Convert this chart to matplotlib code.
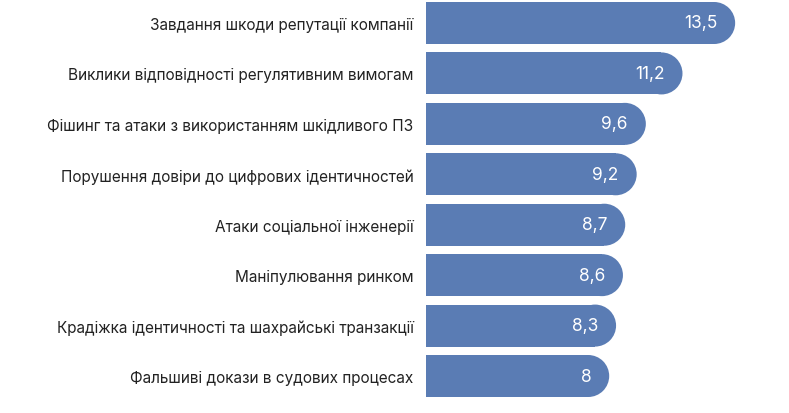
import matplotlib
matplotlib.use("Agg")
import matplotlib.pyplot as plt
from matplotlib.patches import Ellipse

categories = [
    "Завдання шкоди репутації компанії",
    "Виклики відповідності регулятивним вимогам",
    "Фішинг та атаки з використанням шкідливого ПЗ",
    "Порушення довіри до цифрових ідентичностей",
    "Атаки соціальної інженерії",
    "Маніпулювання ринком",
    "Крадіжка ідентичності та шахрайські транзакції",
    "Фальшиві докази в судових процесах",
]
values = [13.5, 11.2, 9.6, 9.2, 8.7, 8.6, 8.3, 8.0]
value_labels = ["13,5", "11,2", "9,6", "9,2", "8,7", "8,6", "8,3", "8"]

W, H, DPI = 789, 414, 100
plt.rcParams['font.family'] = ['Inter', 'DejaVu Sans']
fig = plt.figure(figsize=(W / DPI, H / DPI), dpi=DPI)
ax_left = 426 / W
ax = fig.add_axes([ax_left, 0, 1 - ax_left, 1])

px_per_x = 22.9
px_per_y = 50.43
xmax = (W - 426) / px_per_x
ax.set_xlim(0, xmax)
ax.set_ylim(7 + (H - 377) / px_per_y, -24 / px_per_y)

color = '#5a7cb4'
bar_h = 42 / px_per_y
r_px = 21
r_x = r_px / px_per_x
pos = list(range(len(categories)))
ax.barh(pos, [v - r_x for v in values], height=bar_h, color=color, linewidth=0)
for i, v in enumerate(values):
    ax.add_patch(Ellipse((v - r_x, i), 2 * r_x, bar_h, color=color, linewidth=0))
    ax.annotate(value_labels[i], (v, i), xytext=(-18, 0), textcoords='offset pixels',
                ha='right', va='center', color='white', fontsize=12.5)

ax.set_yticks(pos)
ax.set_yticklabels(categories, fontsize=11.05, color='#222222')
ax.tick_params(axis='y', length=0, pad=9)
ax.set_xticks([])
for s in ax.spines.values():
    s.set_visible(False)

fig.savefig('out.png', dpi=DPI)
